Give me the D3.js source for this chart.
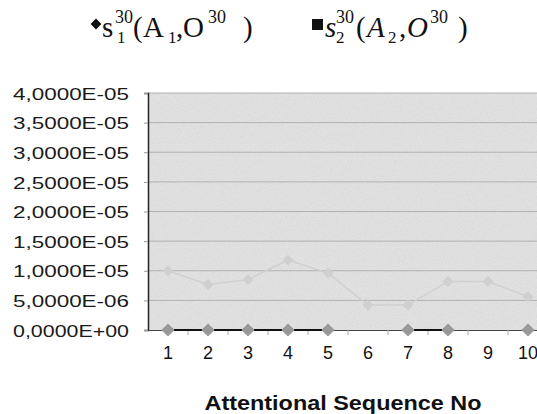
<!DOCTYPE html>
<html><head><meta charset="utf-8">
<script src="https://cdn.jsdelivr.net/npm/d3@7"></script>
<style>body{margin:0;background:#fff;overflow:hidden}</style>
</head><body>
<svg id="c" width="537" height="414"></svg>
<script>
const categories = ["1","2","3","4","5","6","7","8","9","10"];
const s1Values = [0,0,0,0,0,null,0,0,null,0];
const s2Values = [1.0e-5,7.7e-6,8.5e-6,1.18e-5,9.6e-6,4.2e-6,4.2e-6,8.2e-6,8.2e-6,5.6e-6];
const yTicks = [0,5e-6,1e-5,1.5e-5,2e-5,2.5e-5,3e-5,3.5e-5,4e-5];
const yTickLabels = ["0,0000E+00","5,0000E-06","1,0000E-05","1,5000E-05","2,0000E-05","2,5000E-05","3,0000E-05","3,5000E-05","4,0000E-05"];
const xTitle = "Attentional Sequence No";

const svg = d3.select("#c");
const L=148, R=548, T=93, B=330;
const x = d3.scaleBand().domain(categories).range([L,R]);
const y = d3.scaleLinear().domain([0,4e-5]).range([B,T]);

// plot background with speckle
const defs = svg.append("defs");
const f = defs.append("filter").attr("id","noise").attr("x",0).attr("y",0).attr("width","100%").attr("height","100%");
f.append("feTurbulence").attr("type","fractalNoise").attr("baseFrequency",1.2).attr("numOctaves",1).attr("seed",3).attr("result","n");
f.append("feColorMatrix").attr("type","matrix").attr("values","0 0 0 0 0.5  0 0 0 0 0.5  0 0 0 0 0.5  0 0 0 1.2 -0.35").attr("in","n").attr("result","m");
f.append("feComposite").attr("in","m").attr("in2","SourceGraphic").attr("operator","in");
svg.append("rect").attr("x",L).attr("y",T).attr("width",R-L).attr("height",B-T).attr("fill","#e3e3e3");
svg.append("rect").attr("x",L).attr("y",T).attr("width",R-L).attr("height",B-T).attr("fill","#e3e3e3").attr("filter","url(#noise)").attr("opacity",0.4);

// gridlines
svg.append("g").selectAll("line").data(yTicks.slice(1)).join("line")
  .attr("x1",L).attr("x2",R).attr("y1",d=>y(d)).attr("y2",d=>y(d))
  .attr("stroke","#b2b2b2").attr("stroke-width",1);

// y axis
const yAxis = d3.axisLeft(y).tickValues(yTicks).tickSize(4).tickFormat((d,i)=>yTickLabels[i]);
const gy = svg.append("g").attr("transform",`translate(${L},0)`).call(yAxis);
gy.select(".domain").attr("stroke","#222").attr("stroke-width",1.5);
gy.selectAll(".tick line").attr("stroke","#999");
gy.selectAll(".tick text").attr("x",-19).attr("font-family","Liberation Sans, Arial, sans-serif")
  .attr("font-size",17).attr("fill","#1a1a1a").attr("dy","0.36em")
  .attr("textLength",116).attr("lengthAdjust","spacingAndGlyphs");

// x axis
const xAxis = d3.axisBottom(x).tickSize(0).tickPadding(16);
const gx = svg.append("g").attr("transform",`translate(0,${B})`).call(xAxis);
gx.select(".domain").attr("stroke","#444").attr("stroke-width",1.2);
gx.selectAll(".tick text").attr("font-family","Liberation Sans, Arial, sans-serif").attr("font-size",18).attr("fill","#111");
// between-category tick marks
svg.append("g").selectAll("line").data(categories.slice(1)).join("line")
  .attr("x1",d=>x(d)).attr("x2",d=>x(d)).attr("y1",B).attr("y2",B+5).attr("stroke","#aaa");

// series 2 (faint)
const line = d3.line().defined(d=>d.v!=null).x(d=>x(d.c)+x.bandwidth()/2).y(d=>y(d.v));
const s2 = categories.map((c,i)=>({c,v:s2Values[i]}));
svg.append("path").datum(s2).attr("d",line).attr("fill","none").attr("stroke","#d0d0d0").attr("stroke-width",1.5);
svg.append("g").selectAll("path").data(s2).join("path")
  .attr("d",d3.symbol(d3.symbolDiamond2,80))
  .attr("transform",d=>`translate(${x(d.c)+x.bandwidth()/2},${y(d.v)})`)
  .attr("fill","#d0d0d0");

// series 1 (zero)
const s1 = categories.map((c,i)=>({c,v:s1Values[i]}));
svg.append("path").datum(s1).attr("d",line).attr("fill","none").attr("stroke","#111").attr("stroke-width",2);
svg.append("g").selectAll("path").data(s1.filter(d=>d.v!=null)).join("path")
  .attr("d",d3.symbol(d3.symbolDiamond2,110))
  .attr("transform",d=>`translate(${x(d.c)+x.bandwidth()/2},${y(d.v)})`)
  .attr("fill","#999");

// axis title
svg.append("text").attr("x",343).attr("y",410).attr("text-anchor","middle")
  .attr("font-family","Liberation Sans, Arial, sans-serif").attr("font-weight","bold").attr("font-size",21)
  .attr("textLength",277).attr("lengthAdjust","spacingAndGlyphs").attr("fill","#111")
  .text(xTitle);

// legend
const lg = svg.append("g").attr("font-family","Liberation Serif, Times New Roman, serif").attr("fill","#111");
function piece(txt, px, py, size, italic){
  lg.append("text").attr("x",px).attr("y",py).attr("font-size",size)
    .attr("font-style",italic?"italic":"normal").text(txt);
}
lg.append("path").attr("d",d3.symbol(d3.symbolDiamond2,75)).attr("transform","translate(96,24)").attr("fill","#111");
piece("s",102,37,29,false);
piece("30",115,23,18,false);
piece("1",117,43,17,false);
piece("(",133,37,29,false);
piece("A",143,37,29,false);
piece("1",168,43,17,false);
piece(",",176,37,29,false);
piece("O",183,37,29,false);
piece("30",208,23,18,false);
piece(")",243,37,29,false);

lg.append("rect").attr("x",312).attr("y",19).attr("width",11).attr("height",11).attr("fill","#111");
piece("s",325,37,29,true);
piece("30",336,23,18,false);
piece("2",336,43,17,false);
piece("(",356,37,29,false);
piece("A",367,37,29,true);
piece("2",388,43,17,false);
piece(",",399,37,29,false);
piece("O",407,37,29,true);
piece("30",430,23,18,false);
piece(")",458,37,29,false);
</script>
</body></html>
